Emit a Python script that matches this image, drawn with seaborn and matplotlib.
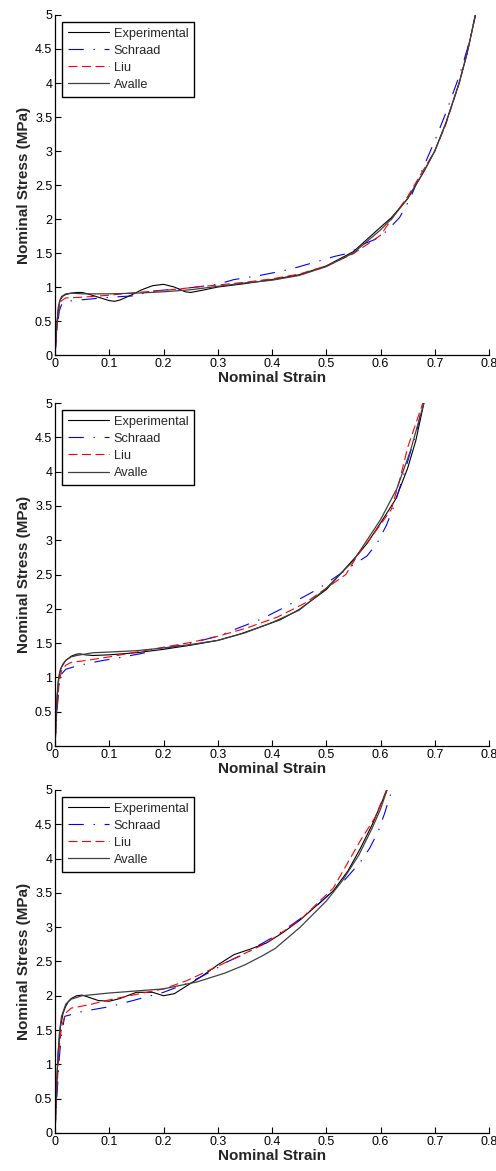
import matplotlib
matplotlib.use("Agg")
import matplotlib.pyplot as plt
import seaborn as sns

# ---------------- data ----------------
x_ticks = [0, 0.1, 0.2, 0.3, 0.4, 0.5, 0.6, 0.7, 0.8]
x_tick_labels = ["0", "0.1", "0.2", "0.3", "0.4", "0.5", "0.6", "0.7", "0.8"]
y_ticks = [0, 0.5, 1, 1.5, 2, 2.5, 3, 3.5, 4, 4.5, 5]
y_tick_labels = ["0", "0.5", "1", "1.5", "2", "2.5", "3", "3.5", "4", "4.5", "5"]
series_names = ["Experimental", "Schraad", "Liu", "Avalle"]

# Panel 1
p1_exp_x = [0, 0.003, 0.006, 0.01, 0.015, 0.02, 0.03, 0.04, 0.05, 0.06, 0.08, 0.1, 0.11, 0.12, 0.14, 0.16,
            0.18, 0.2, 0.22, 0.24, 0.25, 0.27, 0.3, 0.35, 0.4, 0.45, 0.5, 0.55, 0.6, 0.62, 0.65, 0.68, 0.7,
            0.72, 0.745, 0.76, 0.775]
p1_exp_y = [0, 0.4, 0.7, 0.82, 0.87, 0.89, 0.91, 0.92, 0.92, 0.9, 0.85, 0.8, 0.79, 0.81, 0.88, 0.96,
            1.02, 1.04, 1.0, 0.93, 0.92, 0.95, 1.0, 1.05, 1.11, 1.18, 1.31, 1.52, 1.88, 2.02, 2.3, 2.7, 3.0,
            3.4, 4.0, 4.45, 5.0]
p1_sch_x = [0, 0.004, 0.008, 0.012, 0.02, 0.06, 0.1, 0.145, 0.18, 0.25, 0.3, 0.33, 0.37, 0.39, 0.433, 0.49,
            0.515, 0.543, 0.568, 0.59, 0.611, 0.635, 0.654, 0.68, 0.7, 0.72, 0.745, 0.76, 0.775]
p1_sch_y = [0, 0.4, 0.65, 0.74, 0.79, 0.82, 0.85, 0.87, 0.94, 0.99, 1.04, 1.11, 1.16, 1.19, 1.26, 1.39,
            1.45, 1.5, 1.63, 1.7, 1.82, 2.02, 2.29, 2.78, 3.15, 3.55, 4.1, 4.5, 5.0]
p1_liu_x = [0, 0.004, 0.008, 0.012, 0.02, 0.05, 0.1, 0.15, 0.2, 0.25, 0.3, 0.35, 0.4, 0.45, 0.5, 0.55, 0.6,
            0.625, 0.65, 0.67, 0.7, 0.72, 0.745, 0.76, 0.775]
p1_liu_y = [0, 0.45, 0.72, 0.8, 0.84, 0.85, 0.88, 0.92, 0.95, 0.99, 1.03, 1.07, 1.12, 1.19, 1.31, 1.49, 1.76,
            2.05, 2.33, 2.6, 3.0, 3.38, 4.0, 4.45, 5.0]
p1_ava_x = [0, 0.004, 0.008, 0.012, 0.02, 0.03, 0.05, 0.1, 0.15, 0.2, 0.25, 0.3, 0.35, 0.4, 0.45, 0.5, 0.55,
            0.6, 0.62, 0.65, 0.68, 0.7, 0.72, 0.745, 0.76, 0.775]
p1_ava_y = [0, 0.5, 0.78, 0.86, 0.9, 0.91, 0.9, 0.9, 0.91, 0.93, 0.96, 1.01, 1.06, 1.1, 1.17, 1.3, 1.5,
            1.84, 2.0, 2.3, 2.7, 3.0, 3.4, 4.0, 4.45, 5.0]

# Panel 2
p2_exp_x = [0, 0.003, 0.006, 0.01, 0.015, 0.02, 0.03, 0.04, 0.046, 0.055, 0.07, 0.1, 0.15, 0.2, 0.25, 0.3,
            0.34, 0.38, 0.415, 0.45, 0.5, 0.525, 0.55, 0.575, 0.6, 0.628, 0.65, 0.665, 0.68]
p2_exp_y = [0, 0.6, 0.95, 1.12, 1.2, 1.25, 1.31, 1.34, 1.345, 1.33, 1.32, 1.33, 1.36, 1.41, 1.47, 1.54,
            1.63, 1.74, 1.84, 1.99, 2.28, 2.5, 2.72, 2.95, 3.25, 3.6, 4.05, 4.45, 5.0]
p2_sch_x = [0, 0.004, 0.008, 0.012, 0.02, 0.046, 0.083, 0.12, 0.16, 0.2, 0.25, 0.3, 0.341, 0.38, 0.42, 0.485,
            0.544, 0.575, 0.594, 0.611, 0.625, 0.636, 0.652, 0.667, 0.678]
p2_sch_y = [0, 0.55, 0.9, 1.05, 1.12, 1.18, 1.24, 1.29, 1.35, 1.42, 1.5, 1.6, 1.73, 1.85, 2.01, 2.29,
            2.61, 2.77, 2.96, 3.22, 3.5, 3.78, 4.2, 4.6, 5.0]
p2_liu_x = [0, 0.004, 0.008, 0.012, 0.02, 0.03, 0.06, 0.1, 0.15, 0.2, 0.25, 0.3, 0.353, 0.41, 0.46, 0.5,
            0.536, 0.556, 0.59, 0.62, 0.636, 0.65, 0.665, 0.678]
p2_liu_y = [0, 0.6, 0.95, 1.1, 1.18, 1.22, 1.25, 1.3, 1.37, 1.44, 1.51, 1.6, 1.72, 1.88, 2.08, 2.3,
            2.5, 2.76, 3.12, 3.45, 3.9, 4.35, 4.7, 5.0]
p2_ava_x = [0, 0.004, 0.008, 0.012, 0.02, 0.03, 0.04, 0.07, 0.1, 0.15, 0.2, 0.25, 0.3, 0.35, 0.4, 0.45,
            0.5, 0.55, 0.6, 0.63, 0.655, 0.68]
p2_ava_y = [0, 0.75, 1.05, 1.15, 1.25, 1.3, 1.32, 1.36, 1.37, 1.39, 1.43, 1.48, 1.54, 1.65, 1.8, 1.98,
            2.3, 2.7, 3.3, 3.75, 4.3, 5.0]

# Panel 3
p3_exp_x = [0, 0.003, 0.006, 0.01, 0.015, 0.02, 0.025, 0.03, 0.04, 0.05, 0.065, 0.08, 0.1, 0.12, 0.15, 0.18,
            0.2, 0.22, 0.25, 0.27, 0.3, 0.33, 0.36, 0.39, 0.42, 0.451, 0.48, 0.513, 0.54, 0.563, 0.585, 0.6,
            0.612]
p3_exp_y = [0, 0.7, 1.2, 1.55, 1.75, 1.85, 1.92, 1.96, 2.0, 2.01, 1.97, 1.93, 1.92, 1.96, 2.05, 2.05,
            2.0, 2.03, 2.18, 2.28, 2.45, 2.6, 2.68, 2.77, 2.92, 3.1, 3.3, 3.53, 3.82, 4.15, 4.5, 4.78,
            5.0]
p3_sch_x = [0, 0.004, 0.008, 0.012, 0.018, 0.05, 0.1, 0.12, 0.2, 0.25, 0.292, 0.316, 0.353, 0.372, 0.408,
            0.439, 0.455, 0.485, 0.507, 0.532, 0.562, 0.58, 0.596, 0.608, 0.621]
p3_sch_y = [0, 0.6, 1.1, 1.45, 1.7, 1.77, 1.84, 1.88, 2.05, 2.2, 2.37, 2.49, 2.62, 2.72, 2.88,
            3.05, 3.14, 3.33, 3.49, 3.67, 3.94, 4.15, 4.4, 4.67, 5.0]
p3_liu_x = [0, 0.004, 0.008, 0.012, 0.02, 0.03, 0.064, 0.088, 0.15, 0.2, 0.243, 0.292, 0.34, 0.39, 0.451,
            0.513, 0.562, 0.59, 0.611]
p3_liu_y = [0, 0.7, 1.25, 1.55, 1.75, 1.82, 1.87, 1.92, 2.02, 2.1, 2.22, 2.4, 2.58, 2.77, 3.1,
            3.57, 4.25, 4.6, 5.0]
p3_ava_x = [0, 0.004, 0.008, 0.012, 0.02, 0.03, 0.05, 0.1, 0.15, 0.2, 0.261, 0.313, 0.35, 0.384, 0.406,
            0.452, 0.5, 0.53, 0.56, 0.585, 0.6, 0.612]
p3_ava_y = [0, 0.9, 1.45, 1.7, 1.88, 1.95, 2.0, 2.04, 2.07, 2.1, 2.2, 2.33, 2.45, 2.59, 2.69,
            3.0, 3.38, 3.68, 4.05, 4.45, 4.72, 5.0]

panels = [
    [(p1_exp_x, p1_exp_y), (p1_sch_x, p1_sch_y), (p1_liu_x, p1_liu_y), (p1_ava_x, p1_ava_y)],
    [(p2_exp_x, p2_exp_y), (p2_sch_x, p2_sch_y), (p2_liu_x, p2_liu_y), (p2_ava_x, p2_ava_y)],
    [(p3_exp_x, p3_exp_y), (p3_sch_x, p3_sch_y), (p3_liu_x, p3_liu_y), (p3_ava_x, p3_ava_y)],
]

# ---------------- styling ----------------
sns.set_theme(style="ticks")
plt.rcParams["font.family"] = ["Liberation Sans", "DejaVu Sans"]
plt.rcParams["lines.scale_dashes"] = False

styles = [
    dict(color="black", linestyle="-", linewidth=0.8),
    dict(color="#0000ff", linestyle=(0, (11, 7, 1, 7)), linewidth=0.8),
    dict(color="#ff0000", linestyle=(0, (6.5, 3.2)), linewidth=0.8),
    dict(color="#404040", linestyle="-", linewidth=0.9),
]

fig = plt.figure(figsize=(4.96, 11.71), dpi=100)
positions = [
    [0.1109, 0.6968, 0.875, 0.2904],
    [0.1109, 0.3629, 0.875, 0.2929],
    [0.1109, 0.0325, 0.875, 0.2929],
]

for pos, data in zip(positions, panels):
    ax = fig.add_axes(pos)
    for (xs, ys), name, st in zip(data, series_names, styles):
        sns.lineplot(x=xs, y=ys, ax=ax, sort=False, estimator=None, label=name, **st)
    ax.set_xlim(0, 0.8)
    ax.set_ylim(0, 5)
    ax.set_xticks(x_ticks, x_tick_labels)
    ax.set_yticks(y_ticks, y_tick_labels)
    ax.tick_params(direction="in", length=4, width=0.8, labelsize=9, pad=2, colors="black")
    for side in ["top", "right"]:
        ax.spines[side].set_visible(False)
    for side in ["left", "bottom"]:
        ax.spines[side].set_linewidth(0.9)
        ax.spines[side].set_color("black")
    ax.set_xlabel("Nominal Strain", fontsize=11, fontweight="bold", labelpad=1)
    ax.set_ylabel("Nominal Stress (MPa)", fontsize=11, fontweight="bold", labelpad=3)
    leg = ax.legend(loc="upper left", bbox_to_anchor=(0.016, 0.98), borderaxespad=0,
                    fontsize=9.2, frameon=True, fancybox=False, framealpha=1,
                    edgecolor="black", handlelength=3.2, handletextpad=0.4,
                    labelspacing=0.4, borderpad=0.45)
    leg.get_frame().set_linewidth(1.0)

fig.savefig("out.png", dpi=100)
